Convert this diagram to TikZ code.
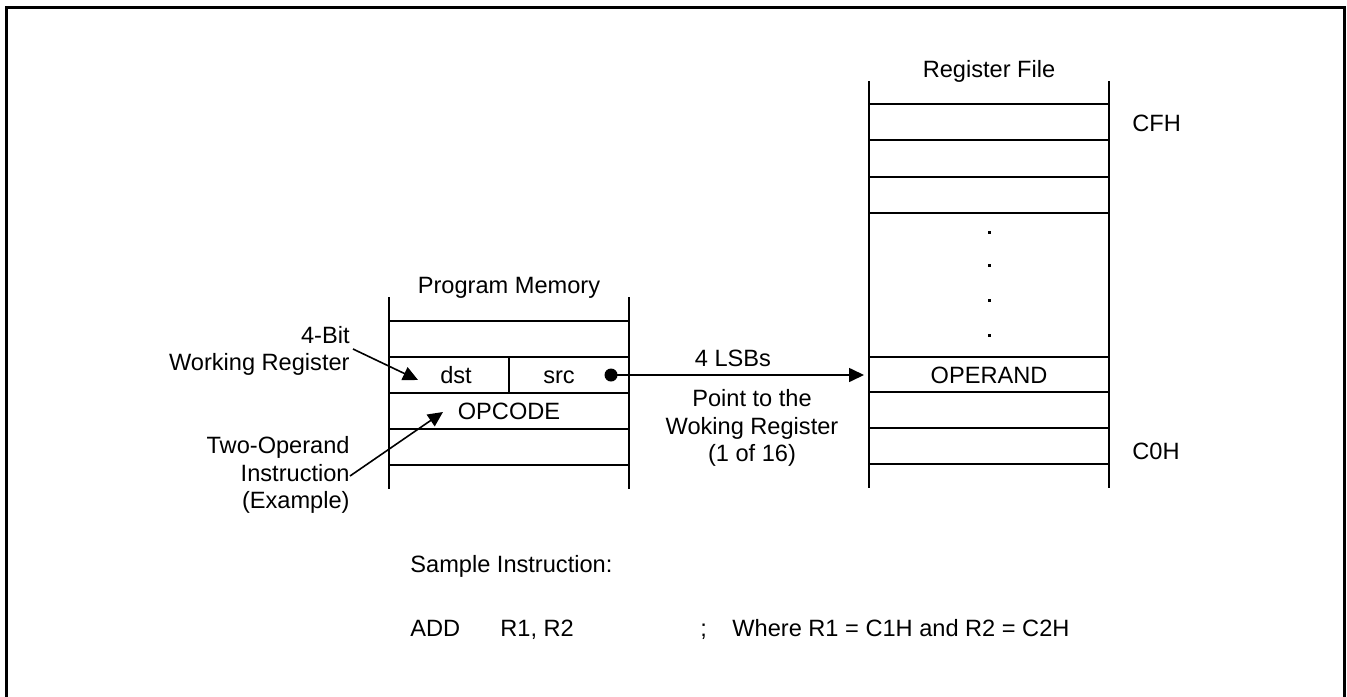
\documentclass[tikz,border=0pt]{standalone}
\usepackage{fontspec}
\setmainfont{Liberation Sans}
\usetikzlibrary{arrows.meta,calc}

\tikzset{
  txt/.style={inner sep=0pt,font=\fontsize{11.8}{13.8}\selectfont},
  lbl/.style={txt,text height=8.5pt,text depth=0pt},
  ptr/.style={line width=0.8pt,-{Triangle[length=7.5pt,width=7pt]}},
  cell/.style={line width=1pt}
}

\begin{document}
\begin{tikzpicture}[x=0.5pt,y=-0.5pt]
\useasboundingbox (0,0) rectangle (1347,696);
\draw[line width=1.5pt] (6.5,700) |- (1344.5,7) -- (1344.5,700);

% program memory
\draw[cell] (389,297) -- (389,489) (629,297) -- (629,489);
\foreach \y in {321,357,393,429,465}
  \draw[cell] (389,\y) -- (629,\y);
\draw[cell] (509,357) -- (509,393);

% register file
\draw[cell] (869,81) -- (869,488) (1109,81) -- (1109,488);
\foreach \y in {104,140,177,213,357,392,428,464}
  \draw[cell] (869,\y) -- (1109,\y);
\foreach \y in {232,265,300,335}
  \fill (987.5,\y-1.5) rectangle ++(3,3);

\node[lbl] (PMTitle) at (509,285) {Program Memory};
\node[lbl] (RFTitle) at (989,69) {Register File};
\node[lbl] (Dst) at (456,375) {dst};
\node[lbl] (Src) at (559,375) {src};
\node[lbl] (Opcode) at (509,411) {OPCODE};
\node[lbl] (Operand) at (989,375) {OPERAND};
\node[lbl,anchor=west] (CFH) at (1132,123) {CFH};
\node[lbl,anchor=west] (C0H) at (1132,451) {C0H};

\node[txt,align=right,anchor=east] (WReg) at (350,351) {4-Bit\\Working Register};
\node[txt,align=right,anchor=east] (TwoOp) at (350,475) {Two-Operand\\Instruction\\(Example)};
\node[lbl] (LSBs) at (733,358) {4 LSBs};
\node[txt,align=center] (PointTo) at (752,428) {Point to the\\Woking Register\\(1 of 16)};

\node[lbl,anchor=west] (Sample) at (410,564) {Sample Instruction:};
\node[lbl,anchor=west] (Add) at (410,628) {ADD};
\node[lbl,anchor=west] (Regs) at (500,628) {R1, R2};
\node[lbl,anchor=west] (Semi) at (700,628) {;};
\node[lbl,anchor=west] (Where) at (732,628) {Where R1 = C1H and R2 = C2H};

% pointers
\coordinate (WRegEnd) at (353,349);
\coordinate (DstTip) at (418,380);
\coordinate (TwoOpEnd) at (350,476);
\coordinate (OpTip) at (443,412);
\coordinate (SrcDot) at (611,375);
\coordinate (OperandTip) at (864,375);

\draw[ptr] (WRegEnd) -- (DstTip);
\draw[ptr] (TwoOpEnd) -- (OpTip);
\fill (SrcDot) circle (6.5);
\draw[ptr] (SrcDot) -- (OperandTip);

\end{tikzpicture}
\end{document}
